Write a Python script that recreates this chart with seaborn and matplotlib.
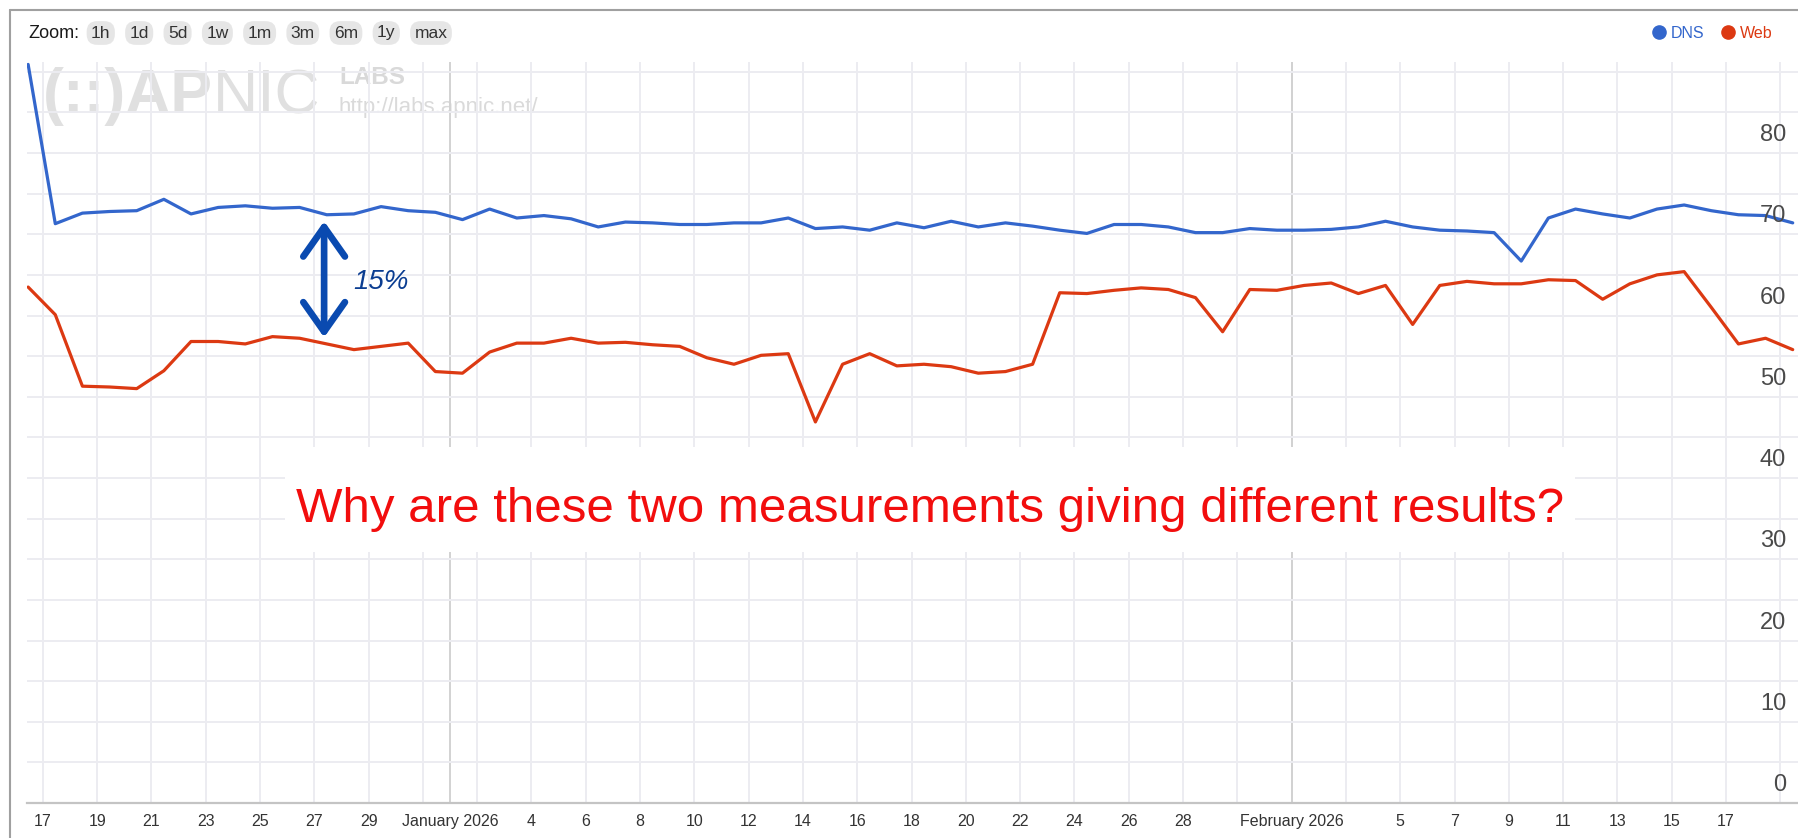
import matplotlib
matplotlib.use('Agg')
import matplotlib.pyplot as plt
from matplotlib import font_manager
from matplotlib.lines import Line2D
from matplotlib.patches import Rectangle
import pandas as pd
import seaborn as sns

# daily values (percent)
dns = [90.9, 71.3, 72.6, 72.8, 72.9, 74.3, 72.5, 73.3, 73.5, 73.2, 73.3, 72.4, 72.5,
       73.4, 72.9, 72.7, 71.8, 73.1, 72.0, 72.3, 71.9, 70.9, 71.5, 71.4, 71.2, 71.2,
       71.4, 71.4, 72.0, 70.7, 70.9, 70.5, 71.4, 70.8, 71.6, 70.9, 71.4, 71.0, 70.5,
       70.1, 71.2, 71.2, 70.9, 70.2, 70.2, 70.7, 70.5, 70.5, 70.6, 70.9, 71.6, 70.9,
       70.5, 70.4, 70.2, 66.7, 72.0, 73.1, 72.5, 72.0, 73.1, 73.6, 72.9, 72.4, 72.3, 71.4]
web = [63.5, 60.1, 51.3, 51.2, 51.0, 53.2, 56.8, 56.8, 56.5, 57.4, 57.2, 56.5, 55.8,
       56.2, 56.6, 53.1, 52.9, 55.5, 56.6, 56.6, 57.2, 56.6, 56.7, 56.4, 56.2, 54.8,
       54.0, 55.1, 55.3, 46.9, 54.0, 55.3, 53.8, 54.0, 53.7, 52.9, 53.1, 54.0, 62.8,
       62.7, 63.1, 63.4, 63.2, 62.2, 58.0, 63.2, 63.1, 63.7, 64.0, 62.7, 63.7, 58.9,
       63.7, 64.2, 63.9, 63.9, 64.4, 64.3, 62.0, 63.9, 65.0, 65.4, 61.0, 56.5, 57.2, 55.8]
dates = pd.date_range('2025-12-16 11:00', periods=len(dns), freq='D')

tick_dates = pd.date_range('2025-12-17', '2026-02-19', freq='2D')
tick_labels = ['17', '19', '21', '23', '25', '27', '29', '', '', '4', '6', '8', '10',
               '12', '14', '16', '18', '20', '22', '24', '26', '28', '', '', '', '5',
               '7', '9', '11', '13', '15', '17', '']
month_dates = pd.to_datetime(['2026-01-01', '2026-02-01'])
month_labels = ['January 2026', 'February 2026']
y_labels = [0, 10, 20, 30, 40, 50, 60, 70, 80]
zoom_buttons = ['1h', '1d', '5d', '1w', '1m', '3m', '6m', '1y', 'max']

blue = '#3366cc'
red = '#dc3912'
grid = '#ececf1'

sns.set_style('white')
plt.rcParams['font.family'] = ['Liberation Sans', 'DejaVu Sans']
names = {f.name for f in font_manager.fontManager.ttflist}
narrow = 'Liberation Sans Narrow' if 'Liberation Sans Narrow' in names else 'Liberation Sans'
xsize = 14 if narrow == 'Liberation Sans Narrow' else 11.5

W, H = 1798, 838
fig = plt.figure(figsize=(W / 100, H / 100), dpi=100)
fig.patch.set_facecolor('white')
ax = fig.add_axes([27 / W, 1 - 803 / H, (W - 27) / W, (803 - 62) / H])
ax.patch.set_visible(False)

df = pd.DataFrame({'date': list(dates) * 2,
                   'value': dns + web,
                   'series': ['DNS'] * len(dns) + ['Web'] * len(web)})
sns.lineplot(data=df, x='date', y='value', hue='series',
             palette={'DNS': blue, 'Web': red}, linewidth=2.3, legend=False, ax=ax)

ax.set_xlim(pd.Timestamp('2025-12-16 10:00'), pd.Timestamp('2026-02-19 15:40'))
ax.set_ylim(0, 91.2)
ax.set_xlabel('')
ax.set_ylabel('')

ax.xaxis.remove_overlapping_locs = False
ax.set_xticks(tick_dates, labels=tick_labels)
ax.set_xticks(month_dates, labels=month_labels, minor=True)
ax.set_yticks(range(0, 91, 10))
ax.set_yticks(range(5, 91, 10), minor=True)
ax.tick_params(axis='x', which='both', length=0, pad=8, labelsize=xsize, labelcolor='#333333')
ax.tick_params(axis='y', which='both', length=0, labelleft=False)
plt.setp(ax.get_xticklabels(which='both'), fontfamily=narrow)
ax.set_axisbelow(True)
ax.grid(axis='y', which='both', color=grid, lw=1.4)
ax.grid(axis='x', which='major', color=grid, lw=1.4)
ax.grid(axis='x', which='minor', color='#d2d2d2', lw=1.4)
for s in ['top', 'left', 'right']:
    ax.spines[s].set_visible(False)
ax.spines['bottom'].set_color('#c4c4c4')
ax.spines['bottom'].set_linewidth(1.6)

# y labels sit just above their gridlines, inside the plot on the right
for v in y_labels:
    ax.annotate(str(v), xy=(1, v), xycoords=('axes fraction', 'data'),
                xytext=(-12, 12), textcoords='offset pixels', ha='right', va='baseline',
                fontsize=17, color='#4a4a4a', zorder=5)

# watermark
logo = fig.text(43 / W, 1 - 113 / H, '(::)AP', fontsize=54 if narrow != 'Liberation Sans' else 45,
                fontfamily=narrow, weight='bold', color='#e0e0e0', zorder=-1)
fig.texts.append(matplotlib.text.Annotation('NIC', xy=(1, 0), xycoords=logo, va='bottom',
                 fontsize=logo.get_fontsize(), fontfamily=narrow, color='#e0e0e0', zorder=-1))
fig.texts[-1].set_figure(fig)
fig.text(339 / W, 1 - 84 / H, 'LABS', fontsize=17.5, weight='bold', color='#d9d9d9', zorder=-1)
fig.text(339 / W, 1 - 113 / H, 'http://labs.apnic.net/', fontsize=16, color='#dadada', zorder=-1)

# frame of the screenshot
fig.add_artist(Line2D([10 / W, 10 / W], [0, 1 - 10 / H], transform=fig.transFigure,
                      color='#a0a0a0', lw=1.5))
fig.add_artist(Line2D([10 / W, 1], [1 - 10 / H, 1 - 10 / H], transform=fig.transFigure,
                      color='#a0a0a0', lw=1.5))

# zoom bar
prev = fig.text(28 / W, 1 - 33 / H, 'Zoom:', fontsize=13, color='#1a1a1a', va='center')
gap = 12
for b in zoom_buttons:
    prev = ax.annotate(b, xy=(1, 0.5), xycoords=prev, xytext=(gap, 0),
                       textcoords='offset pixels', ha='left', va='center',
                       fontsize=12.5, color='#333333',
                       bbox=dict(boxstyle='round,pad=0.25,rounding_size=0.6',
                                 fc='#e6e6e6', ec='none'))
    gap = 19

# legend
handles = [Line2D([], [], ls='none', marker='o', ms=9.5, color=blue),
           Line2D([], [], ls='none', marker='o', ms=9.5, color=red)]
leg = ax.legend(handles, ['DNS', 'Web'], loc='center right',
                bbox_to_anchor=(1773 / W, 1 - 33 / H), bbox_transform=fig.transFigure,
                ncol=2, frameon=False, fontsize=11.5, handlelength=0.8, handletextpad=0.35,
                columnspacing=1.1, borderpad=0, borderaxespad=0)
for t, c in zip(leg.get_texts(), [blue, red]):
    t.set_color(c)

# hand-drawn notes
ax.add_patch(Rectangle((0.1457, 0.3387), 0.7284, 0.1417, transform=ax.transAxes,
                       fc='white', ec='none', zorder=3))
ax.text(0.5099, 0.3792, 'Why are these two measurements giving different results?',
        transform=ax.transAxes, ha='center', va='baseline', fontsize=35.5,
        color='#f20d0d', zorder=4)
arrow_x = pd.Timestamp('2025-12-27 08:40')
ax.annotate('', xy=(arrow_x, 57.3), xytext=(arrow_x, 71.6),
            arrowprops=dict(arrowstyle='<->,head_length=0.85,head_width=0.6',
                            mutation_scale=25, lw=4.8, color='#0a4ab0',
                            shrinkA=0, shrinkB=0, capstyle='round', joinstyle='round'),
            zorder=6)
ax.text(pd.Timestamp('2025-12-28 10:20'), 63.3, '15%', fontsize=20, style='italic',
        color='#0b3d91', ha='left', va='baseline', zorder=6)

fig.savefig('out.png', dpi=100)
